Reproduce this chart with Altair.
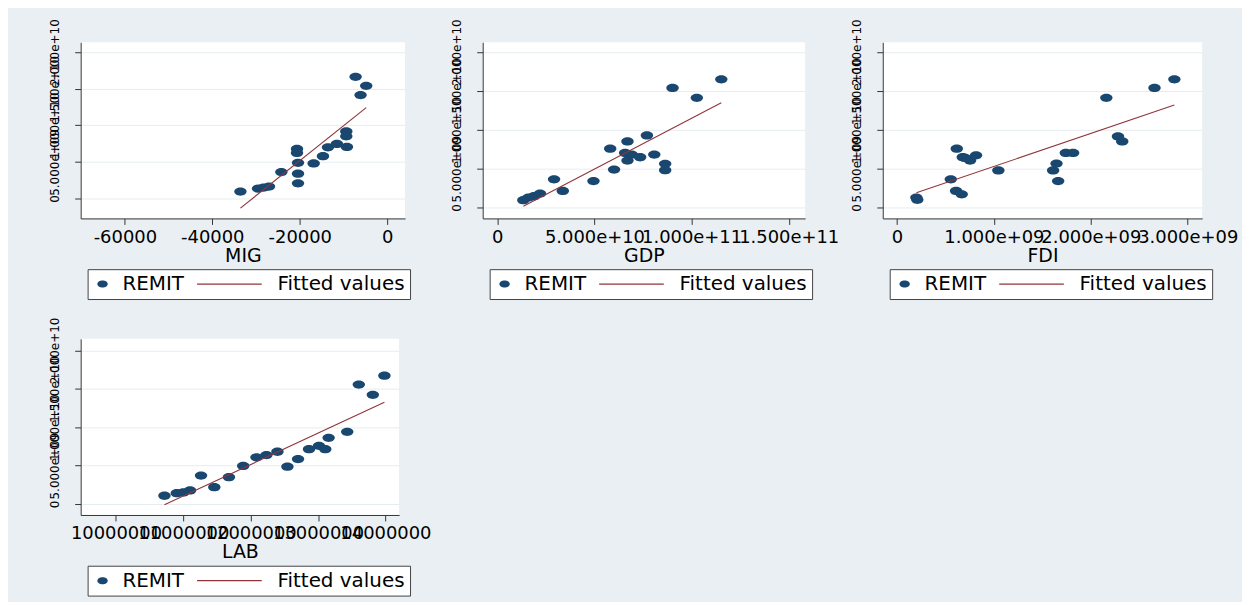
import altair as alt
import pandas as pd

# ---------------- data ----------------
SERIES = ["REMIT", "Fitted values"]

mig_x = [-33570, -29540, -28250, -27030, -24210, -20630, -20630, -20400, -20400, -20400,
         -16820, -14690, -13550, -11500, -9210, -9360, -9360, -7230, -4800, -6090]
mig_y = [0.95e9, 1.36e9, 1.49e9, 1.63e9, 3.61e9, 6.78e9, 6.23e9, 4.88e9, 3.39e9, 2.08e9,
         4.79e9, 5.78e9, 7.00e9, 7.45e9, 7.05e9, 9.17e9, 8.49e9, 16.62e9, 15.40e9, 14.14e9]

gdp_x = [1.34e10, 1.60e10, 1.89e10, 2.20e10, 2.92e10, 3.37e10, 4.95e10, 6.01e10, 5.81e10, 6.70e10,
         6.58e10, 6.92e10, 6.70e10, 7.35e10, 7.70e10, 8.08e10, 8.64e10, 8.64e10, 9.02e10, 10.27e10, 11.53e10]
gdp_y = [0.94e9, 1.28e9, 1.45e9, 1.79e9, 3.62e9, 2.13e9, 3.40e9, 4.89e9, 7.57e9, 8.51e9,
         7.02e9, 6.81e9, 6.04e9, 6.47e9, 9.28e9, 6.81e9, 5.62e9, 4.81e9, 15.40e9, 14.13e9, 16.51e9]

fdi_x = [0.200e9, 0.210e9, 0.555e9, 0.610e9, 0.668e9, 0.617e9, 0.679e9, 0.703e9, 0.754e9, 0.816e9,
         1.046e9, 1.611e9, 1.646e9, 1.663e9, 1.742e9, 1.817e9, 2.160e9, 2.280e9, 2.324e9, 2.657e9, 2.862e9]
fdi_y = [1.28e9, 0.98e9, 3.62e9, 2.13e9, 1.70e9, 7.57e9, 6.47e9, 6.38e9, 6.04e9, 6.72e9,
         4.77e9, 4.77e9, 5.66e9, 3.40e9, 7.02e9, 7.02e9, 14.13e9, 9.15e9, 8.51e9, 15.40e9, 16.51e9]

lab_x = [10.720e6, 10.903e6, 11.001e6, 11.100e6, 11.263e6, 11.460e6, 11.677e6, 11.889e6, 12.086e6, 12.234e6,
         12.397e6, 12.545e6, 12.703e6, 12.866e6, 13.014e6, 13.107e6, 13.157e6, 13.433e6, 13.605e6, 13.813e6, 13.985e6]
lab_y = [1.08e9, 1.42e9, 1.51e9, 1.77e9, 3.71e9, 2.20e9, 3.49e9, 4.96e9, 6.08e9, 6.38e9,
         6.81e9, 4.87e9, 5.86e9, 7.15e9, 7.59e9, 7.15e9, 8.62e9, 9.40e9, 15.56e9, 14.22e9, 16.72e9]

y_ticks = [0, 5e9, 1e10, 1.5e10, 2e10]
mig_ticks = [-60000, -40000, -20000, 0]
gdp_ticks = [0, 5e10, 1e11, 1.5e11]
fdi_ticks = [0, 1e9, 2e9, 3e9]
lab_ticks = [1e7, 1.1e7, 1.2e7, 1.3e7, 1.4e7]

# ---------------- styling ----------------
NAVY = "#1a476f"
MAROON = "#90353b"
BG = "#e9eff2"
FONT = "DejaVu Sans"

ELLIPSE = "M -1.5,0 A 1.5,1 0 1,0 1.5,0 A 1.5,1 0 1,0 -1.5,0 Z"
LINE_SYM = "M -2.857,-0.16 L 15.714,-0.16 L 15.714,0.16 L -2.857,0.16 Z"

SCI = ("datum.value == 0 ? '0' : format(datum.value / pow(10, floor(log(abs(datum.value)) / LN10 + 1e-9)), '.3f')"
       " + 'e+' + pad(toString(floor(log(abs(datum.value)) / LN10 + 1e-9)), 2, '0', 'left')")
PLAIN = "toString(datum.value)"
# zero-width space first so that the non-breaking spaces are not trimmed away
NB = "\u200b" + "\u00a0" * 8
LEG_EXPR = "datum.label == 'Fitted values' ? '" + NB + "Fitted values' : datum.label"


def panel(name, xs, ys, xdomain, xticks, xexpr, ydomain, width, height=177):
    df = pd.DataFrame({name: xs, "REMIT": ys})
    df["series"] = "REMIT"
    xenc = alt.X(
        f"{name}:Q",
        scale=alt.Scale(domain=xdomain, nice=False, zero=False),
        axis=alt.Axis(values=xticks, labelExpr=xexpr, title=name, grid=False,
                      labelOverlap=False, labelFlush=False, labelFontSize=18,
                      labelPadding=4, titlePadding=0),
    )
    yenc = alt.Y(
        "REMIT:Q",
        scale=alt.Scale(domain=ydomain, nice=False, zero=False),
        axis=alt.Axis(values=y_ticks, labelExpr=SCI, title=None, grid=True,
                      labelAngle=270, labelAlign="center", labelBaseline="bottom",
                      labelOverlap=False, labelFlush=False, labelFontSize=12,
                      labelPadding=13),
    )
    legend = alt.Legend(
        title=None, orient="none", legendX=7, legendY=228, direction="horizontal", columns=2,
        labelExpr=LEG_EXPR, labelFont=FONT, labelFontSize=20, labelColor="black",
        labelOffset=10, columnPadding=13, padding=5, symbolSize=49, symbolStrokeWidth=0,
        strokeColor="#444444", fillColor="white", labelLimit=400,
    )
    pts = alt.Chart(df).mark_point(filled=True, opacity=1, size=69).encode(
        x=xenc,
        y=yenc,
        color=alt.Color("series:N", scale=alt.Scale(domain=SERIES, range=[NAVY, MAROON]), legend=legend),
        shape=alt.Shape("series:N", scale=alt.Scale(domain=SERIES, range=[ELLIPSE, LINE_SYM]), legend=legend),
    )
    fit = alt.Chart(df).transform_regression(name, "REMIT").mark_line(
        color=MAROON, strokeWidth=1.1
    ).encode(x=xenc, y=yenc)
    return alt.layer(pts, fit).properties(width=width, height=height)


p1 = panel("MIG", mig_x, mig_y, [-70114, 4087], mig_ticks, PLAIN, [-2.72e9, 2.1346e10], 326)
p2 = panel("GDP", gdp_x, gdp_y, [-7.53e9, 1.5845e11], gdp_ticks, SCI, [-1.41e9, 2.128e10], 324)
p3 = panel("FDI", fdi_x, fdi_y, [-0.1468e9, 3.149e9], fdi_ticks, SCI, [-1.41e9, 2.128e10], 321)
p4 = panel("LAB", lab_x, lab_y, [9.476e6, 14.203e6], lab_ticks, PLAIN, [-1.425e9, 2.1516e10], 320)

chart = (
    alt.concat(p1, p2, p3, p4, columns=3, spacing={"row": 121, "column": 78})
    .resolve_scale(color="independent", shape="independent")
    .resolve_legend(color="independent", shape="independent")
    .properties(bounds="flush", background=BG,
                padding={"left": 40, "top": 9, "right": 4, "bottom": 4})
    .configure_view(stroke=None, fill="white")
    .configure_axis(
        labelFont=FONT, titleFont=FONT, labelColor="black", titleColor="black",
        titleFontSize=19, titleFontWeight="normal", domainColor="#333333",
        tickColor="#333333", tickSize=6, gridColor="#e6edf0", gridWidth=1,
    )
)

chart.save("out.html", embed_options={"renderer": "svg", "actions": False})
